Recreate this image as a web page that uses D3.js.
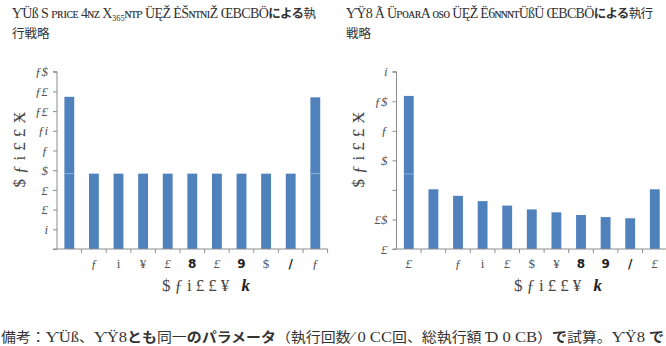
<!DOCTYPE html>
<html><head><meta charset="utf-8">
<script src="https://cdn.jsdelivr.net/npm/d3@7"></script>
<style>
html,body{margin:0;padding:0;background:#fff;overflow:hidden}
svg{display:block}
</style></head>
<body>
<svg id="c" width="666" height="346"></svg>
<script>
// ---- data ----
const leftCategories = [0,1,2,3,4,5,6,7,8,9,10];
const leftValues = [15.45,7.65,7.65,7.65,7.65,7.65,7.65,7.65,7.65,7.65,15.4];
const leftXTickLabels = ["","ƒ","i","¥","£","8","£","9","$","/","ƒ"];
const leftYTicks = [0,2,4,6,8,10,12,14,16,18];
const leftYTickLabels = ["","i","£","£","$","ƒ","ƒi","ƒ£","ƒ£","ƒ$"];

const rightCategories = [0,1,2,3,4,5,6,7,8,9,10];
const rightValues = [25.9,10.1,9.0,8.1,7.35,6.7,6.2,5.75,5.4,5.2,10.1];
const rightXTickLabels = ["£","","ƒ","i","£","$","¥","8","9","/","£"];
const rightYTicks = [0,5,10,15,20,25,30];
const rightYTickLabels = ["£","£$","","$","ƒ","ƒ$","i"];

const axisTitleX = "$ƒi££¥ ";
const axisTitleXBold = "k";
const axisTitleY = "$ƒi££Ӿ";

const leftTitle1 = "ƳÜß S ᴘʀɪᴄᴇ 4ɴᴢ X₃₆₅ɴᴛᴘ ÜĘŽ ĖŠɴᴛɴɪŽ ŒBCBÖ";
const rightTitle1 = "ƳŸ8 Ã ÜᴘᴏᴀʀA ᴏsᴏ ÜĘŽ Ë6ɴɴɴᴛÜßÜ ŒBCBÖ";

const BAR = "#4f81bd";
const svg = d3.select("#c");
const serif = "'Liberation Serif','DejaVu Serif',serif";
const jp = "'Noto Sans CJK JP','Noto Sans',sans-serif";

function chart(o){
  const g = svg.append("g");
  const x = d3.scaleBand().domain(o.cats).range([o.x0, o.x0 + o.step*o.cats.length]).padding(0);
  const y = d3.scaleLinear().domain([0, o.ymax]).range([249, 71.7]);
  // bars
  g.selectAll("rect.bar").data(o.vals).join("rect")
    .attr("x",(d,i)=>x(o.cats[i]) + x.bandwidth()*0.3)
    .attr("width", x.bandwidth()*0.4)
    .attr("y", d=>y(d)).attr("height", d=>y(0)-y(d))
    .attr("fill", BAR);
  // seam artefact line on tall bars
  o.vals.forEach((v,i)=>{
    if(v>o.seam){
      g.append("line")
        .attr("x1", x(o.cats[i]) + x.bandwidth()*0.3).attr("x2", x(o.cats[i]) + x.bandwidth()*0.7)
        .attr("y1", y(o.seam)).attr("y2", y(o.seam))
        .attr("stroke","#8fb1dc").attr("stroke-width",1);
    }
  });
  // y axis
  const ya = d3.axisLeft(y).tickValues(o.yticks).tickSize(4)
      .tickFormat((d,i)=>o.ylabels[i]);
  const yg = g.append("g").attr("transform",`translate(${o.x0},0)`).call(ya);
  yg.select(".domain").attr("stroke","#8c8c8c").attr("d",`M-4,${y(0)}H0V${y(o.ymax)}H-4`);
  yg.selectAll(".tick line").attr("stroke","#8c8c8c");
  yg.selectAll(".tick text").attr("font-family",serif).attr("font-size",13)
    .attr("fill","#555").attr("x",-o.ylabGap).attr("font-style","italic");
  // x axis
  const xg = g.append("g").attr("transform",`translate(0,${y(0)})`);
  xg.append("line").attr("x1",o.x0).attr("x2",o.x0+o.step*o.cats.length)
    .attr("stroke","#8c8c8c");
  o.cats.forEach((c,i)=>{
    xg.append("line").attr("x1",x(c)+x.bandwidth()).attr("x2",x(c)+x.bandwidth())
      .attr("y1",0).attr("y2",4).attr("stroke","#8c8c8c");
  });
  xg.selectAll("text").data(o.xlabels).join("text")
    .attr("x",(d,i)=>x(o.cats[i])+x.bandwidth()/2)
    .attr("y",19)
    .attr("text-anchor","middle")
    .attr("font-family",d=>/[89\/]/.test(d)?"'DejaVu Sans',sans-serif":serif)
    .attr("font-weight",d=>/[89\/]/.test(d)?"bold":"normal")
    .attr("font-style",d=>/[ƒ£]/.test(d)?"italic":"normal")
    .attr("font-size",d=>/[89\/]/.test(d)?12:13)
    .attr("fill",d=>/[89\/]/.test(d)?"#222":"#555")
    .text(d=>d);
  // axis titles
  const xt = g.append("text").attr("x",o.xtitleX).attr("y",291)
    .attr("text-anchor","middle").attr("font-family",serif).attr("font-size",17)
    .attr("letter-spacing",4).attr("fill","#444");
  xt.append("tspan").text(axisTitleX);
  xt.append("tspan").attr("font-weight","bold").attr("font-style","italic").attr("fill","#222").text(axisTitleXBold);
  g.append("text").attr("transform",`translate(${o.ytitleX},147) rotate(-90)`)
    .attr("text-anchor","middle").attr("font-family",serif).attr("font-size",17)
    .attr("letter-spacing",5).attr("fill","#444")
    .attr("dy","0.35em").text(axisTitleY);
}

chart({cats:leftCategories, vals:leftValues, xlabels:leftXTickLabels, yticks:leftYTicks,
       ylabels:leftYTickLabels, ymax:18, x0:57, step:24.6, seam:leftValues[1],
       ylabGap:9, xtitleX:208, ytitleX:19});
chart({cats:rightCategories, vals:rightValues, xlabels:rightXTickLabels, yticks:rightYTicks,
       ylabels:rightYTickLabels, ymax:30, x0:396.5, step:24.6, seam:12.7,
       ylabGap:9, xtitleX:560, ytitleX:358});

// titles
function title(x, moj, tail, line2, width){
  const t = svg.append("text").attr("x",x).attr("y",18).attr("font-family",jp)
    .attr("font-size",12.5).attr("fill","#333")
    .attr("textLength",width).attr("lengthAdjust","spacing");
  t.append("tspan").attr("font-family",serif).attr("font-size",14).text(moj);
  t.append("tspan").attr("font-weight","bold").text("による");
  t.append("tspan").text(tail);
  svg.append("text").attr("x",x).attr("y",38).attr("font-family",jp).attr("font-size",12.5)
    .attr("fill","#333").text(line2);
}
title(12, leftTitle1, "執", "行戦略", 304);
title(346, rightTitle1, "執行", "戦略", 307);

// footer
const foot = svg.append("text").attr("x",1).attr("y",342).attr("font-family",jp)
  .attr("font-size",13.5).attr("fill","#333")
  .attr("textLength",663).attr("lengthAdjust","spacingAndGlyphs");
const parts = [
  ["備考：",0],["ƳÜß",2],["、",0],["ƳŸ8",2],["とも",1],["同一",0],["の",1],["パラメータ",1],
  ["（執行回数",0],["⁄  0 ",2],["CC",2],["回、総執行額 ",0],["Ɗ 0 ",2],["CB",2],["）",0],["で",1],["試算。",0],["ƳŸ8 ",2],["で",1]
];
parts.forEach(([s,k])=>{
  const ts = foot.append("tspan").text(s);
  if(k===1) ts.attr("font-weight","bold");
  if(k===2) ts.attr("font-family",serif).attr("font-size",15);
});
</script>
</body></html>
